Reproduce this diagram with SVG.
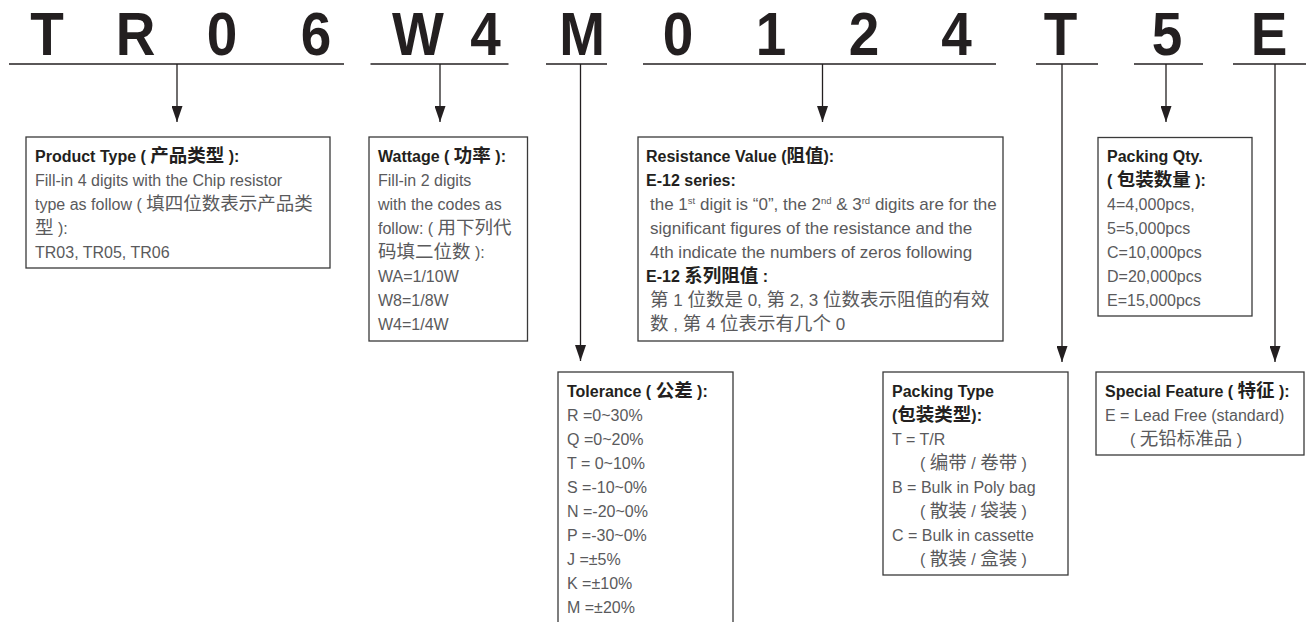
<svg xmlns="http://www.w3.org/2000/svg" width="1306" height="622" viewBox="0 0 1306 622">
<style>
.hd{font-family:"Liberation Sans","Noto Sans",sans-serif;font-weight:bold;font-size:61px;fill:#231f20;text-anchor:middle}
.hl{stroke:#231f20;stroke-width:1.7;fill:none}
.cn{stroke:#231f20;stroke-width:1.3;fill:none}
.box{fill:#fff;stroke:#3a3a3a;stroke-width:1.3}
.t{font-family:"Liberation Sans","Noto Sans CJK SC",sans-serif;font-size:16px;fill:#5a5a5c}
.b{font-family:"Liberation Sans","Noto Sans CJK SC",sans-serif;font-size:16px;font-weight:bold;fill:#231f20}
.r{font-size:17px}
.c{font-family:"Noto Sans CJK SC","Liberation Sans",sans-serif;font-size:18.5px}
.sup{font-size:9.5px}
</style>
<defs>
<marker id="ah" viewBox="0 0 16 11" refX="16" refY="5.5" markerWidth="16" markerHeight="11" markerUnits="userSpaceOnUse" orient="auto">
<path d="M0,0 L16,5.5 L0,11 z" fill="#231f20"/>
</marker>
</defs>

<g id="code">
<text class="hd" transform="translate(47,55.2) scale(0.9,1)">T</text>
<text class="hd" transform="translate(135.5,55.2) scale(0.9,1)">R</text>
<text class="hd" transform="translate(222,55.2) scale(0.9,1)">0</text>
<text class="hd" transform="translate(316,55.2) scale(0.9,1)">6</text>
<text class="hd" transform="translate(418,55.2) scale(0.9,1)">W</text>
<text class="hd" transform="translate(485.5,55.2) scale(0.9,1)">4</text>
<text class="hd" transform="translate(582,55.2) scale(0.9,1)">M</text>
<text class="hd" transform="translate(678,55.2) scale(0.9,1)">0</text>
<text class="hd" transform="translate(771,55.2) scale(0.9,1)">1</text>
<text class="hd" transform="translate(864,55.2) scale(0.9,1)">2</text>
<text class="hd" transform="translate(956.5,55.2) scale(0.9,1)">4</text>
<text class="hd" transform="translate(1060.5,55.2) scale(0.9,1)">T</text>
<text class="hd" transform="translate(1167,55.2) scale(0.9,1)">5</text>
<text class="hd" transform="translate(1269,55.2) scale(0.9,1)">E</text>
</g>

<g id="connectors">
<line class="hl" x1="9" y1="64" x2="344" y2="64"/>
<line class="hl" x1="370.5" y1="64" x2="508.5" y2="64"/>
<line class="hl" x1="546" y1="64" x2="607" y2="64"/>
<line class="hl" x1="643" y1="64" x2="996" y2="64"/>
<line class="hl" x1="1036" y1="64" x2="1098" y2="64"/>
<line class="hl" x1="1134" y1="64" x2="1203" y2="64"/>
<line class="hl" x1="1233" y1="64" x2="1306" y2="64"/>
<line class="cn" x1="177" y1="64" x2="177" y2="122" marker-end="url(#ah)"/>
<line class="cn" x1="440" y1="64" x2="440" y2="122" marker-end="url(#ah)"/>
<line class="cn" x1="580.5" y1="64" x2="580.5" y2="361" marker-end="url(#ah)"/>
<line class="cn" x1="822.5" y1="64" x2="822.5" y2="122" marker-end="url(#ah)"/>
<line class="cn" x1="1062" y1="64" x2="1062" y2="362" marker-end="url(#ah)"/>
<line class="cn" x1="1166" y1="64" x2="1166" y2="122" marker-end="url(#ah)"/>
<line class="cn" x1="1275" y1="64" x2="1275" y2="362" marker-end="url(#ah)"/>
</g>

<g id="product-type">
<rect class="box" x="26" y="137" width="304" height="131"/>
<text class="b" x="35" y="162">Product Type ( <tspan class="c">产品类型</tspan> ):</text>
<text class="t" x="35" y="186" font-size="16.5">Fill-in 4 digits with the Chip resistor</text>
<text class="t" x="35" y="210" font-size="16.5">type as follow ( <tspan class="c">填四位数表示产品类</tspan></text>
<text class="t" x="35" y="234"><tspan class="c">型</tspan> ):</text>
<text class="t" x="35" y="258">TR03, TR05, TR06</text>
</g>

<g id="wattage">
<rect class="box" x="369" y="137" width="158.5" height="204"/>
<text class="b" x="378" y="162">Wattage ( <tspan class="c">功率</tspan> ):</text>
<text class="t" x="378" y="186">Fill-in 2 digits</text>
<text class="t" x="378" y="210">with the codes as</text>
<text class="t" x="378" y="234">follow: ( <tspan class="c">用下列代</tspan></text>
<text class="t" x="378" y="258"><tspan class="c">码填二位数</tspan> ):</text>
<text class="t" x="378" y="282">WA=1/10W</text>
<text class="t" x="378" y="306">W8=1/8W</text>
<text class="t" x="378" y="330">W4=1/4W</text>
</g>

<g id="resistance">
<rect class="box" x="638" y="137" width="365" height="204"/>
<text class="b" x="646" y="162">Resistance Value (<tspan class="c">阻值</tspan>):</text>
<text class="b" x="646" y="186">E-12 series:</text>
<text class="t r" x="650" y="210">the 1<tspan class="sup" dy="-6">st</tspan><tspan dy="6"> digit is “0”, the 2</tspan><tspan class="sup" dy="-6">nd</tspan><tspan dy="6"> &amp; 3</tspan><tspan class="sup" dy="-6">rd</tspan><tspan dy="6"> digits are for the</tspan></text>
<text class="t r" x="650" y="234">significant figures of the resistance and the</text>
<text class="t r" x="650" y="258">4th indicate the numbers of zeros following</text>
<text class="b" x="646" y="282">E-12 <tspan class="c">系列阻值</tspan> :</text>
<text class="t r" x="650" y="306"><tspan class="c">第</tspan> 1 <tspan class="c">位数是</tspan> 0, <tspan class="c">第</tspan> 2, 3 <tspan class="c">位数表示阻值的有效</tspan></text>
<text class="t r" x="650" y="330"><tspan class="c">数</tspan> , <tspan class="c">第</tspan> 4 <tspan class="c">位表示有几个</tspan> 0</text>
</g>

<g id="packing-qty">
<rect class="box" x="1098" y="137.5" width="154" height="178.5"/>
<text class="b" x="1107" y="162">Packing Qty.</text>
<text class="b" x="1107" y="186">( <tspan class="c">包装数量</tspan> ):</text>
<text class="t" x="1107" y="210">4=4,000pcs,</text>
<text class="t" x="1107" y="234">5=5,000pcs</text>
<text class="t" x="1107" y="258">C=10,000pcs</text>
<text class="t" x="1107" y="282">D=20,000pcs</text>
<text class="t" x="1107" y="306">E=15,000pcs</text>
</g>

<g id="tolerance">
<rect class="box" x="558" y="372" width="175" height="270"/>
<text class="b" x="567" y="397">Tolerance ( <tspan class="c">公差</tspan> ):</text>
<text class="t" x="567" y="421">R =0~30%</text>
<text class="t" x="567" y="445">Q =0~20%</text>
<text class="t" x="567" y="469">T = 0~10%</text>
<text class="t" x="567" y="493">S =-10~0%</text>
<text class="t" x="567" y="517">N =-20~0%</text>
<text class="t" x="567" y="541">P =-30~0%</text>
<text class="t" x="567" y="565">J =±5%</text>
<text class="t" x="567" y="589">K =±10%</text>
<text class="t" x="567" y="613">M =±20%</text>
</g>

<g id="packing-type">
<rect class="box" x="883" y="372" width="185" height="203"/>
<text class="b" x="892" y="397">Packing Type</text>
<text class="b" x="892" y="421">(<tspan class="c">包装类型</tspan>):</text>
<text class="t" x="892" y="445">T = T/R</text>
<text class="t" x="920" y="469">( <tspan class="c">编带</tspan> / <tspan class="c">卷带</tspan> )</text>
<text class="t" x="892" y="493">B = Bulk in Poly bag</text>
<text class="t" x="920" y="517">( <tspan class="c">散装</tspan> / <tspan class="c">袋装</tspan> )</text>
<text class="t" x="892" y="541">C = Bulk in cassette</text>
<text class="t" x="920" y="565">( <tspan class="c">散装</tspan> / <tspan class="c">盒装</tspan> )</text>
</g>

<g id="special-feature">
<rect class="box" x="1096" y="372" width="208" height="83"/>
<text class="b" x="1105" y="397">Special Feature ( <tspan class="c">特征</tspan> ):</text>
<text class="t" x="1105" y="421">E = Lead Free (standard)</text>
<text class="t" x="1130" y="445">( <tspan class="c">无铅标准品</tspan> )</text>
</g>
</svg>
